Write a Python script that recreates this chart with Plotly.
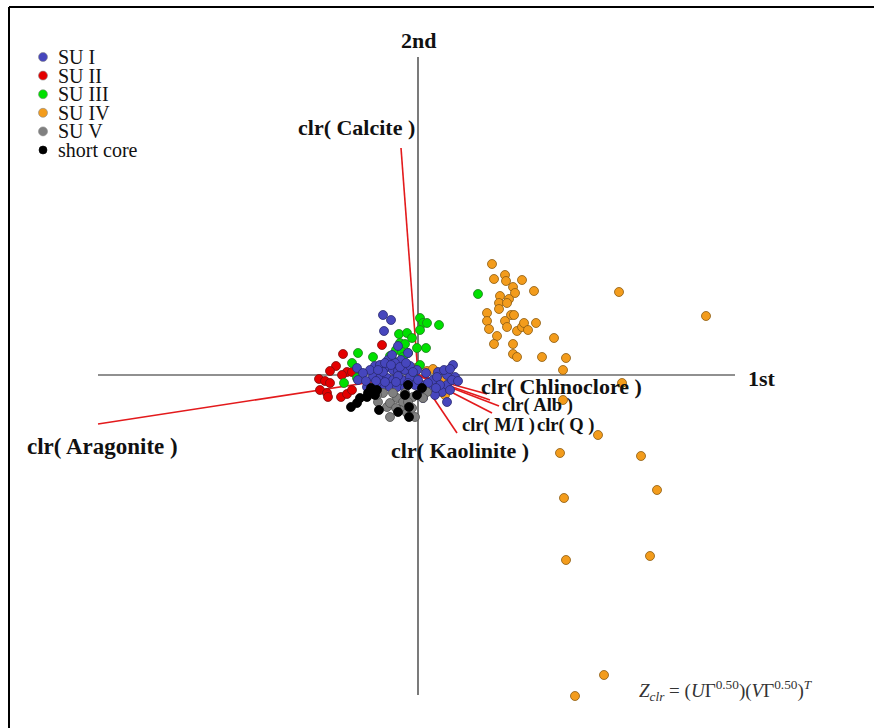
import plotly.graph_objects as go

# ---------------- data (biplot coordinates) ----------------
su1_x = [-0.35, -0.27, -0.34, -0.43, -0.38, -0.31, -0.25, -0.20, -0.13, -0.08, -0.10, -0.17, -0.30,
         -0.45, -0.38, -0.31, -0.25, -0.16, -0.08, -0.36, -0.28, -0.21, -0.13, 0.02, 0.05, 0.15, 0.20,
         0.29, 0.35, 0.37, 0.29, 0.24, 0.29, 0.12, 0.19, -0.61, -0.60, -0.48, -0.41, -0.51, -0.01,
         -0.23, -0.35, -0.20, 0.07, -0.03, 0.32, 0.34, 0.17,
         -0.40, -0.33, -0.27, -0.18, -0.12, -0.05, 0.00, 0.10, 0.22, 0.26, 0.32, -0.42, -0.33,
         -0.22, -0.10, 0.08, -0.55, -0.52, 0.18, 0.40, -0.26, -0.20]
su1_y = [0.60, 0.55, 0.44, 0.09, 0.10, 0.08, 0.05, 0.04, 0.05, 0.09, 0.22, 0.15, 0.15,
         -0.02, -0.03, -0.03, -0.05, -0.05, -0.02, -0.12, -0.12, -0.12, -0.13, -0.18, -0.23, -0.05, 0.03,
         0.00, 0.10, -0.02, -0.10, -0.17, -0.27, -0.15, -0.02, 0.07, -0.05, 0.05, -0.08, -0.12, 0.05,
         0.12, 0.03, -0.01, -0.10, -0.10, -0.15, -0.05, -0.20,
         0.05, 0.12, 0.10, 0.08, 0.12, 0.03, -0.05, -0.08, -0.10, 0.05, 0.06, -0.06, -0.07,
         -0.07, -0.08, 0.02, 0.02, -0.06, -0.13, -0.06, 0.20, 0.29]

su2_x = [-0.36, -0.75, -0.82, -0.88, -0.71, -0.66, -0.76, -0.99, -0.93, -0.88, -0.98, -0.91, -0.90,
         -0.77, -0.71, -0.66]
su2_y = [0.30, 0.21, 0.09, 0.04, 0.03, 0.03, 0.00, -0.04, -0.06, -0.08, -0.15, -0.18, -0.22,
         -0.22, -0.19, -0.15]

su3_x = [0.02, 0.05, 0.09, 0.21, 0.02, -0.19, -0.11, -0.06, -0.18, -0.13, -0.22, -0.16, -0.10,
         -0.01, 0.08, -0.28, -0.23, -0.15, 0.02, -0.15, -0.03, -0.60, -0.66, -0.58, -0.74, -0.61,
         -0.45, -0.48, 0.60]
su3_y = [0.57, 0.52, 0.52, 0.50, 0.45, 0.41, 0.42, 0.37, 0.32, 0.31, 0.25, 0.23, 0.22,
         0.27, 0.27, 0.19, 0.13, 0.18, 0.10, -0.10, -0.04, 0.22, 0.12, 0.02, -0.08, -0.03,
         0.18, -0.13, 0.81]

su4_x = [0.74, 0.76, 0.87, 0.88, 0.95, 0.97, 1.04, 1.16, 2.01, 2.88, 0.82, 0.81, 0.91, 0.89,
         0.81, 0.69, 0.93, 0.96, 0.69, 0.87, 0.89, 0.71, 0.99, 1.04, 1.06, 1.10, 1.18, 0.79,
         0.76, 0.95, 0.95, 0.99, 1.24, 1.36, 1.48, 1.45, 2.04, 1.45, 1.80, 1.42, 2.23, 2.39,
         1.46, 1.48, 2.32, 1.86, 1.57, -0.02, 0.09, 0.15, 0.25, 0.27, 0.24]
su4_y = [1.11, 0.96, 1.00, 0.94, 0.88, 0.82, 0.95, 0.84, 0.83, 0.59, 0.79, 0.72, 0.76, 0.72,
         0.66, 0.62, 0.60, 0.60, 0.54, 0.54, 0.48, 0.46, 0.44, 0.48, 0.52, 0.45, 0.52, 0.39,
         0.31, 0.31, 0.21, 0.18, 0.18, 0.37, 0.17, 0.05, -0.08, -0.25, -0.60, -0.78, -0.81, -1.15,
         -1.23, -1.85, -1.81, -3.00, -3.21, 0.07, 0.04, 0.06, -0.15, -0.20, -0.06]

su5_x = [-0.40, -0.31, -0.28, -0.21, -0.15, -0.18, -0.11, -0.06, -0.03, -0.35, -0.25, -0.13,
         -0.05, 0.09, -0.41, -0.10, 0.05, -0.28, -0.22]
su5_y = [-0.27, -0.32, -0.42, -0.23, -0.27, -0.35, -0.38, -0.33, -0.42, -0.18, -0.18, -0.18,
         -0.22, -0.17, -0.20, -0.27, -0.23, -0.28, -0.33]

core_x = [-0.67, -0.61, -0.51, -0.41, -0.43, -0.39, -0.20, -0.09, -0.09, -0.10, 0.04, -0.50,
          -0.13, -0.01, -0.47, -0.58]
core_y = [-0.32, -0.28, -0.22, -0.15, -0.20, -0.35, -0.37, -0.32, -0.42, -0.10, -0.13, -0.18,
          -0.20, -0.20, -0.13, -0.23]

# loading vectors (end points)
var_names = ["Aragonite", "Calcite", "Kaolinite", "M/I", "Q", "Alb", "Chlinoclore"]
var_x = [-3.20, -0.17, 0.39, 0.74, 0.81, 0.72, 0.69]
var_y = [-0.49, 2.27, -0.58, -0.38, -0.31, -0.25, -0.19]

groups = ["SU I", "SU II", "SU III", "SU IV", "SU V", "short core"]
group_x = [su1_x, su2_x, su3_x, su4_x, su5_x, core_x]
group_y = [su1_y, su2_y, su3_y, su4_y, su5_y, core_y]
colors = ["#4646bd", "#e40000", "#00e000", "#f39c1c", "#808080", "#000000"]
edges = ["#2a2a70", "#7a1010", "#207a20", "#8a5a10", "#505050", "#000000"]
draw_order = [3, 1, 2, 0, 4, 5]

SERIF = "Liberation Serif, Times New Roman, serif"

fig = go.Figure()

# loading vectors
vx, vy = [], []
for x, y in zip(var_x, var_y):
    vx += [0, x, None]
    vy += [0, y, None]
fig.add_trace(go.Scatter(x=vx, y=vy, mode="lines",
                         line=dict(color="#e31a1c", width=1.6),
                         showlegend=False, hoverinfo="skip"))

for i in draw_order:
    fig.add_trace(go.Scatter(
        x=group_x[i], y=group_y[i], mode="markers", name=groups[i],
        marker=dict(size=9, color=colors[i], line=dict(color=edges[i], width=0.8)),
        showlegend=False))

# axes (1st / 2nd)
shapes = [
    dict(type="line", xref="x", yref="y", x0=-3.20, x1=3.17, y0=0, y1=0,
         line=dict(color="#222222", width=1.2), layer="below"),
    dict(type="line", xref="x", yref="y", x0=0, x1=0, y0=-3.20, y1=3.18,
         line=dict(color="#222222", width=1.2), layer="below"),
    # frame
    dict(type="line", xref="paper", yref="paper", x0=9/874, x1=1, y0=1 - 7/728, y1=1 - 7/728,
         line=dict(color="#000000", width=2)),
    dict(type="line", xref="paper", yref="paper", x0=9/874, x1=9/874, y0=0, y1=1 - 7/728,
         line=dict(color="#000000", width=2)),
]

annotations = []
# vector labels
label_pos = {
    "Aragonite": (-3.16, -0.71, 23),
    "Calcite": (-0.62, 2.48, 22),
    "Kaolinite": (0.42, -0.75, 22),
    "M/I": (0.80, -0.50, 18.5),
    "Q": (1.48, -0.50, 18.5),
    "Alb": (1.19, -0.30, 18.5),
    "Chlinoclore": (1.43, -0.11, 22),
}
for name in var_names:
    lx, ly, fs = label_pos[name]
    annotations.append(dict(x=lx, y=ly, xref="x", yref="y", text=f"<b>clr( {name} )</b>",
                            xanchor="center", yanchor="middle",
                            showarrow=False, font=dict(family=SERIF, size=fs, color="#111111")))
annotations.append(dict(x=0, y=3.35, xref="x", yref="y", text="<b>2nd</b>", showarrow=False,
                        xanchor="center", yanchor="middle",
                        font=dict(family=SERIF, size=22, color="#111111")))
annotations.append(dict(x=3.44, y=-0.03, xref="x", yref="y", text="<b>1st</b>", showarrow=False,
                        xanchor="center", yanchor="middle",
                        font=dict(family=SERIF, size=22, color="#111111")))
# formula
annotations.append(dict(x=726/874, y=1 - 690/728, xref="paper", yref="paper",
                        xanchor="center", yanchor="middle",
                        text="<i>Z</i><sub><i>clr</i></sub> = (<i>U</i>Γ<sup>0.50</sup>)(<i>V</i>Γ<sup>0.50</sup>)<sup><i>T</i></sup>",
                        showarrow=False, font=dict(family=SERIF, size=19, color="#333333")))

# manual legend (key circles + text)
leg_top = 57
leg_step = 18.6
for k, g in enumerate(groups):
    cy = leg_top + k * leg_step
    r = 4.5 if k < 5 else 4
    shapes.append(dict(type="circle", xref="paper", yref="paper",
                       x0=(43 - r) / 874, x1=(43 + r) / 874,
                       y0=1 - (cy + r) / 728, y1=1 - (cy - r) / 728,
                       fillcolor=colors[k], line=dict(color="#888888" if k < 5 else "#000000", width=0.6)))
    annotations.append(dict(x=56/874, y=1 - cy/728, xref="paper", yref="paper", text=g,
                            xanchor="left", yanchor="middle", showarrow=False,
                            font=dict(family=SERIF, size=20, color="#111111")))

fig.update_layout(
    width=874, height=728,
    margin=dict(l=0, r=0, t=0, b=0),
    paper_bgcolor="white", plot_bgcolor="white",
    xaxis=dict(range=[-4.18, 4.56], visible=False, fixedrange=True),
    yaxis=dict(range=[-3.53, 3.75], visible=False, fixedrange=True),
    shapes=shapes, annotations=annotations, showlegend=False,
)

fig.write_html("out.html", config={"displayModeBar": False},
               post_script="document.body.style.margin='0';document.body.style.overflow='hidden';")
